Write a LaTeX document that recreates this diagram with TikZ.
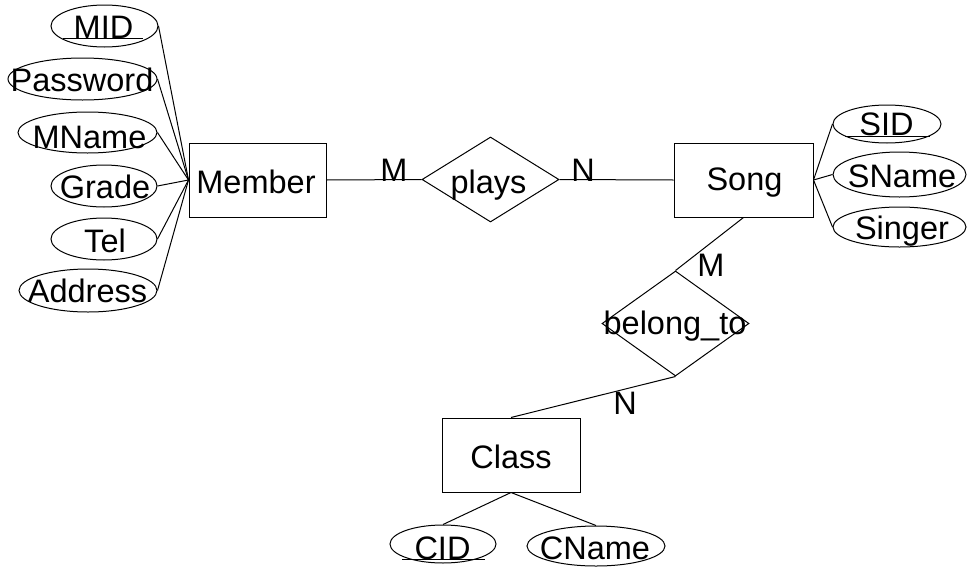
\documentclass[tikz,border=0pt]{standalone}
\usepackage{fontspec}
\setmainfont{Liberation Sans}
\usetikzlibrary{shapes.geometric}
\begin{document}
\begin{tikzpicture}[x=1pt,y=-1pt,line width=1pt,
  lbl/.style={inner sep=0pt,font=\fontsize{32.5}{38}\selectfont,text height=23.3pt,text depth=0pt},
  attr/.style={draw,ellipse,inner sep=0pt},
  ent/.style={draw,rectangle,inner sep=0pt},
  rel/.style={draw,diamond,inner sep=0pt},
  ul/.style={line width=1pt}]
\useasboundingbox (0,0) rectangle (967,568);
% entities
\node[ent,minimum width=137pt,minimum height=74pt] (member) at (257.5,180) {};
\node[ent,minimum width=139pt,minimum height=74pt] (song) at (743.5,180) {};
\node[ent,minimum width=138pt,minimum height=74pt] (class) at (511,455) {};
\node[lbl] (membert) at (256,181.5) {Member};
\node[lbl] (songt) at (744.5,179) {Song};
\node[lbl] (classt) at (511,456.5) {Class};
% relationships
\node[rel,minimum width=137pt,minimum height=85pt] (plays) at (490.5,179.5) {};
\node[rel,minimum width=147pt,minimum height=105pt] (bt) at (675.5,323.5) {};
\node[lbl] (playst) at (488.5,182) {plays};
\node[lbl] (btt) at (675,323) {belong\_to};
% attributes of Member
\node[attr,minimum width=107pt,minimum height=42pt] (mid) at (104.5,26) {};
\node[attr,minimum width=149pt,minimum height=42pt] (password) at (82.5,79) {};
\node[attr,minimum width=139pt,minimum height=41pt] (mname) at (87.5,132.5) {};
\node[attr,minimum width=106pt,minimum height=42pt] (grade) at (104,186) {};
\node[attr,minimum width=106pt,minimum height=42pt] (tel) at (104,239) {};
\node[attr,minimum width=138pt,minimum height=43pt] (address) at (88,290.5) {};
\node[lbl] (midt) at (103.5,26.5) {MID};
\node[lbl] (passwordt) at (82,79.5) {Password};
\node[lbl] (mnamet) at (89.5,137) {MName};
\node[lbl] (gradet) at (105,186.5) {Grade};
\node[lbl] (telt) at (105,241) {Tel};
\node[lbl] (addresst) at (87.5,291) {Address};
\draw[ul] ([xshift=-40.5pt]midt.south) -- ([xshift=39.5pt]midt.south);
% attributes of Song
\node[attr,minimum width=108pt,minimum height=38pt] (sid) at (887,124) {};
\node[attr,minimum width=133pt,minimum height=45pt] (sname) at (899.5,174.5) {};
\node[attr,minimum width=133pt,minimum height=40pt] (singer) at (899.5,227) {};
\node[lbl] (sidt) at (886.5,124) {SID};
\node[lbl] (snamet) at (902,176) {SName};
\node[lbl] (singert) at (902,228) {Singer};
\draw[ul] ([xshift=-41.5pt]sidt.south) -- ([xshift=43.5pt]sidt.south);
% attributes of Class
\node[attr,minimum width=106pt,minimum height=38pt] (cid) at (443,544) {};
\node[attr,minimum width=138pt,minimum height=40pt] (cname) at (596,546) {};
\node[lbl] (cidt) at (442.5,547.5) {CID};
\node[lbl] (cnamet) at (595,547.5) {CName};
\draw[ul] ([xshift=-40.5pt]cidt.south) -- ([xshift=42.5pt]cidt.south);
% connectors
\foreach \a in {mid,password,mname,grade,tel,address}
  \draw (member.west) -- (\a.east);
\foreach \a in {sid,sname,singer}
  \draw (song.east) -- (\a.west);
\draw (class.south) -- (cid.north);
\draw (class.south) -- (cname.north);
\draw (member.east) -- (plays.west);
\draw (plays.east) -- (song.west);
\draw (song.south) -- (bt.north);
\draw (bt.south) -- (class.north);
% cardinalities
\node[lbl] (m1) at (394,170) {M};
\node[lbl] (n1) at (583,170) {N};
\node[lbl] (m2) at (711,265) {M};
\node[lbl] (n2) at (625,403) {N};
\end{tikzpicture}
\end{document}
